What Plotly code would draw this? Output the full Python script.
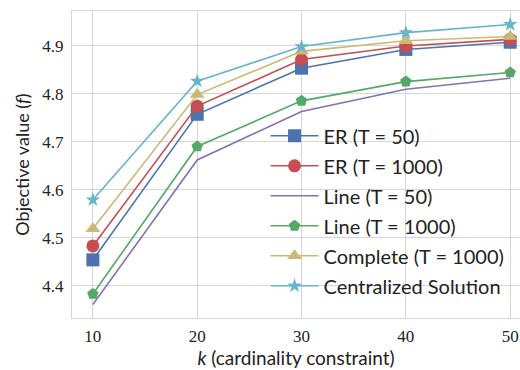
import plotly.graph_objects as go

k_values = [10, 20, 30, 40, 50]

er_t50 = [4.454, 4.757, 4.853, 4.892, 4.907]
er_t1000 = [4.483, 4.774, 4.871, 4.899, 4.913]
line_t50 = [4.361, 4.662, 4.763, 4.809, 4.832]
line_t1000 = [4.383, 4.690, 4.785, 4.825, 4.844]
complete_t1000 = [4.519, 4.798, 4.888, 4.910, 4.919]
centralized = [4.579, 4.826, 4.898, 4.927, 4.944]

series_names = ["ER (T = 50)", "ER (T = 1000)", "Line (T = 50)",
                "Line (T = 1000)", "Complete (T = 1000)", "Centralized Solution"]
y_ticks = [4.4, 4.5, 4.6, 4.7, 4.8, 4.9]

series = [er_t50, er_t1000, line_t50, line_t1000, complete_t1000, centralized]
colors = ["#4C72B0", "#C44E52", "#8172B2", "#55A868", "#CCB974", "#64B5CD"]
symbols = ["square", "circle", None, "pentagon", "triangle-up", "star"]
sizes = [13, 13, 0, 12, 13, 11]

fig = go.Figure()
for name, ys, c, sym, sz in zip(series_names, series, colors, symbols, sizes):
    if sym is None:
        fig.add_trace(go.Scatter(x=k_values, y=ys, name=name, mode="lines",
                                 line=dict(color=c, width=1.6), legendgroup=name))
    else:
        fig.add_trace(go.Scatter(x=k_values, y=ys, name=name, mode="lines+markers",
                                 line=dict(color=c, width=1.6),
                                 marker=dict(symbol=sym, size=sz, color=c,
                                             line=dict(width=0)),
                                 legendgroup=name))

grid_c = "#d6d6d6"
serif = "Liberation Serif, DejaVu Serif, serif"
fig.update_layout(
    width=520, height=370,
    margin=dict(l=72, r=0, t=11, b=52),
    paper_bgcolor="white", plot_bgcolor="white",
    showlegend=True,
    legend=dict(x=0.432, y=0.657, xanchor="left", yanchor="top",
                bgcolor="rgba(0,0,0,0)", borderwidth=0,
                font=dict(family="Lato", size=20, color="#222222"),
                itemwidth=48, tracegroupgap=1),
    xaxis=dict(range=[8, 50.94], tickvals=k_values, ticktext=[str(v) for v in k_values],
               showgrid=True, gridcolor=grid_c, gridwidth=1,
               showline=True, linecolor=grid_c, linewidth=1, mirror=True,
               zeroline=False, ticks="", ticklabelstandoff=3,
               tickfont=dict(family=serif, size=17, color="#222222"),
               title=dict(text="<i>k</i> (cardinality constraint)", standoff=5,
                          font=dict(family="Lato", size=19, color="#222222"))),
    yaxis=dict(range=[4.333, 4.972], tickvals=y_ticks, ticktext=[f"{v:.1f}" for v in y_ticks],
               showgrid=True, gridcolor=grid_c, gridwidth=1,
               showline=True, linecolor=grid_c, linewidth=1, mirror=False,
               zeroline=False, ticks="", ticklabelstandoff=4,
               tickfont=dict(family=serif, size=17, color="#222222"),
               title=dict(text="Objective value (<i>f</i>)", standoff=8,
                          font=dict(family="Lato", size=18, color="#222222"))),
)

fig.write_html("out.html", config={"displayModeBar": False},
               post_script="document.body.style.margin='0';document.body.style.overflow='hidden';")
